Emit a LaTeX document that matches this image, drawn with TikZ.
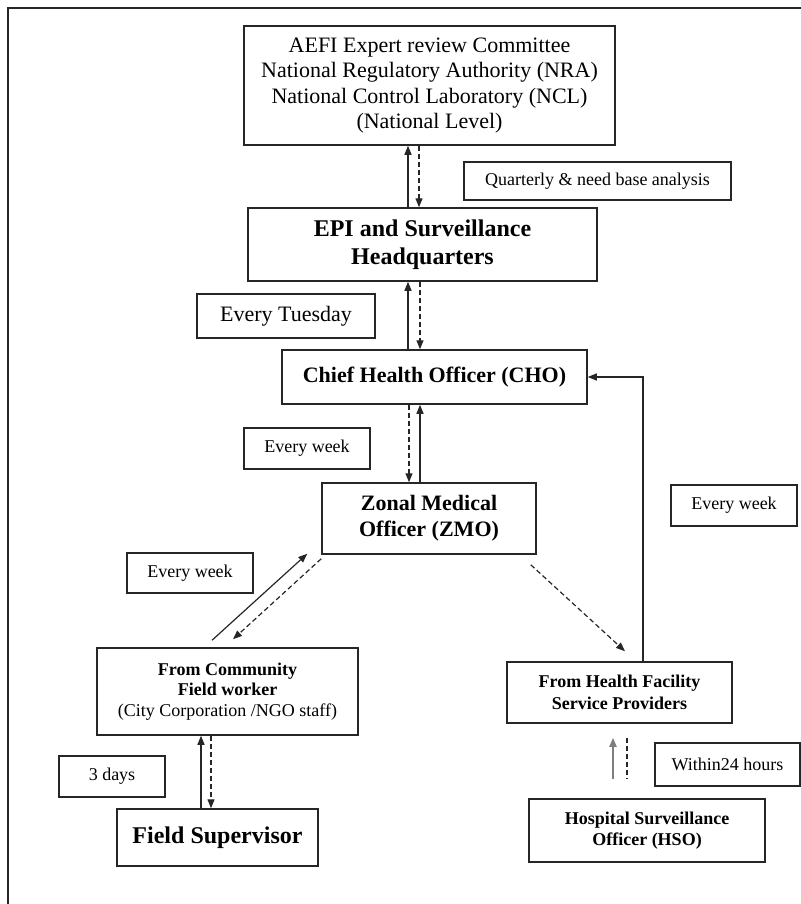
\documentclass[tikz,border=0pt]{standalone}
\usepackage{fontspec}
\setmainfont{Liberation Serif}
\usepackage{tikz}
\usetikzlibrary{arrows.meta, calc}
\definecolor{lineblack}{HTML}{262626}
\definecolor{arrowgray}{HTML}{7F7F7F}

\begin{document}
\begin{tikzpicture}[x=0.5pt, y=-0.5pt,
  box/.style={draw=lineblack, line width=0.75pt, align=center, inner sep=0pt},
  lbl/.style={draw=lineblack, line width=0.75pt, inner sep=0pt, font=\fontsize{9}{10.5}\selectfont},
  sol/.style={lineblack, line width=0.6pt, -{Triangle[length=4.5pt,width=3.5pt]}},
  dsh/.style={lineblack, line width=0.6pt, dash pattern=on 2.5pt off 1.5pt, -{Triangle[length=4.5pt,width=3.5pt]}}]
  \useasboundingbox (0,0) rectangle (801,904);

  % Frame (open on the right and at the bottom)
  \draw[lineblack, line width=0.75pt] (801,8) -- (8,8) -- (8,904);

  % National level
  \node[box, minimum width=185.5pt, minimum height=59.5pt, font=\fontsize{11}{12.75}\selectfont] (aefi) at (429.5,85.5)
    {AEFI Expert review Committee\\National Regulatory Authority (NRA)\\National Control Laboratory (NCL)\\(National Level)};
  \node[lbl, minimum width=133.5pt, minimum height=19pt] (quarterly) at (597.5,181) {Quarterly \& need base analysis};

  % Headquarters and CHO
  \node[box, minimum width=174.5pt, minimum height=36.5pt, font=\fontsize{12}{14}\selectfont\bfseries] (epi) at (422.5,244.5)
    {EPI and Surveillance\\Headquarters};
  \node[lbl, minimum width=89pt, minimum height=22pt, font=\fontsize{11}{13}\selectfont] (tuesday) at (286,316) {Every Tuesday};
  \node[box, minimum width=152.5pt, minimum height=27pt, font=\fontsize{11}{13}\selectfont\bfseries] (cho) at (434.5,377)
    {Chief Health Officer (CHO)};
  \node[lbl, minimum width=63pt, minimum height=20.5pt] (wkcho) at (307,448.5) {Every week};

  % Zonal level
  \node[box, minimum width=107pt, minimum height=35.5pt, font=\fontsize{11}{13}\selectfont\bfseries] (zmo) at (429,518.5)
    {Zonal Medical\\Officer (ZMO)};
  \node[lbl, minimum width=63pt, minimum height=20.5pt] (wkright) at (734,505.5) {Every week};
  \node[lbl, minimum width=63pt, minimum height=20pt] (wkleft) at (190,573) {Every week};

  % Reporting sources
  \node[box, minimum width=130.5pt, minimum height=43.5pt, font=\fontsize{9}{10.4}\selectfont] (community) at (227.5,691.5)
    {\textbf{From Community}\\\textbf{Field worker}\\(City Corporation /NGO staff)};
  \node[box, minimum width=112.5pt, minimum height=30.5pt, font=\fontsize{9}{10.8}\selectfont\bfseries] (facility) at (619.5,692.5)
    {From Health Facility\\Service Providers};
  \node[lbl, minimum width=72.5pt, minimum height=21.5pt] (within) at (727.5,764.5) {Within24 hours};
  \node[lbl, minimum width=53pt, minimum height=20.5pt] (days) at (112,776.5) {3 days};
  \node[box, minimum width=100.5pt, minimum height=28.5pt, font=\fontsize{12}{14}\selectfont\bfseries] (fieldsup) at (217.5,837.5)
    {Field Supervisor};
  \node[box, minimum width=118pt, minimum height=31.5pt, font=\fontsize{9}{10.5}\selectfont\bfseries] (hso) at (647,830.5)
    {Hospital Surveillance\\Officer (HSO)};

  % Vertical arrow pairs
  \draw[sol] (epi.north -| 408,0) -- (aefi.south -| 408,0);
  \draw[dsh] (aefi.south -| 419,0) -- (epi.north -| 419,0);
  \draw[sol] (cho.north -| 408,0) -- (epi.south -| 408,0);
  \draw[dsh] (epi.south -| 420,0) -- (cho.north -| 420,0);
  \draw[dsh] (cho.south -| 409,0) -- (zmo.north -| 409,0);
  \draw[sol] (zmo.north -| 420,0) -- (cho.south -| 420,0);
  \draw[sol] (fieldsup.north -| 201,0) -- (community.south -| 201,0);
  \draw[dsh] (community.south -| 211,0) -- (fieldsup.north -| 211,0);
  \draw[sol, arrowgray, line width=1pt, shorten <=9.5pt, shorten >=7pt] (hso.north -| 613,0) -- (facility.south -| 613,0);
  \draw[lineblack, line width=0.6pt, dash pattern=on 2.5pt off 1.5pt, shorten <=7pt, shorten >=9.5pt] (facility.south -| 627,0) -- (hso.north -| 627,0);

  % Diagonal arrows around the ZMO
  \draw[sol] ([xshift=-7.75pt,yshift=3.5pt]community.north) -- ([xshift=-7pt,yshift=0.5pt]zmo.south west);
  \draw[dsh] ([yshift=-2pt]zmo.south west) -- ([xshift=2.75pt,yshift=4pt]community.north);
  \draw[dsh] ([xshift=-3pt,yshift=-5pt]zmo.south east) -- ([xshift=2.75pt,yshift=5pt]facility.north);

  % Health facility back to CHO
  \draw[sol] (facility.north -| 643,0) |- (cho.east);
\end{tikzpicture}
\end{document}
